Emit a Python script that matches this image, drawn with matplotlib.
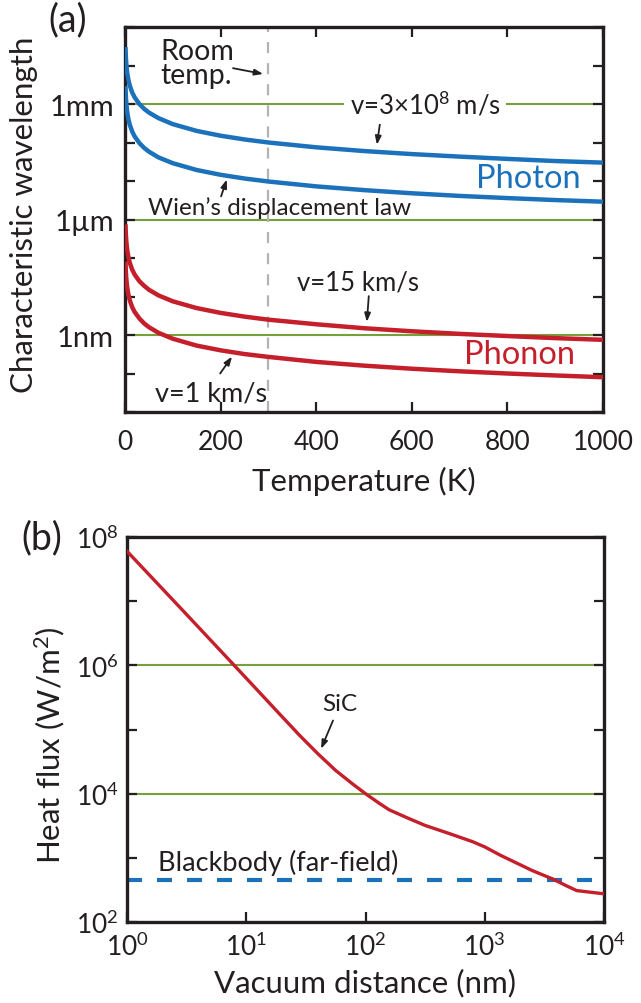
import numpy as np
import matplotlib
matplotlib.use("Agg")
import matplotlib.pyplot as plt
from matplotlib.ticker import FixedLocator, FixedFormatter, LogFormatterMathtext, NullLocator

plt.rcParams['font.family'] = ['Lato', 'DejaVu Sans']
plt.rcParams['mathtext.fontset'] = 'custom'
plt.rcParams['mathtext.rm'] = 'Lato'
plt.rcParams['mathtext.it'] = 'Lato:italic'
plt.rcParams['mathtext.bf'] = 'Lato:bold'
plt.rcParams['mathtext.default'] = 'regular'

# ---------------- data (a) ----------------
temperature_K = [1, 1.5, 2, 3, 4, 5, 7, 10, 15, 20, 30, 40, 50, 70, 100, 150, 200, 250, 300,
                 400, 500, 600, 700, 800, 900, 1000]
photon_v3e8_m = [3.0e-2, 2.0e-2, 1.5e-2, 1.0e-2, 7.5e-3, 6.0e-3, 4.3e-3, 3.0e-3, 2.0e-3, 1.5e-3,
                 1.0e-3, 7.5e-4, 6.0e-4, 4.3e-4, 3.0e-4, 2.0e-4, 1.5e-4, 1.2e-4, 1.0e-4,
                 7.5e-5, 6.0e-5, 5.0e-5, 4.3e-5, 3.75e-5, 3.3e-5, 3.0e-5]
photon_wien_m = [2.9e-3, 1.93e-3, 1.45e-3, 9.7e-4, 7.25e-4, 5.8e-4, 4.1e-4, 2.9e-4, 1.93e-4, 1.45e-4,
                 9.7e-5, 7.25e-5, 5.8e-5, 4.1e-5, 2.9e-5, 1.93e-5, 1.45e-5, 1.16e-5, 9.7e-6,
                 7.25e-6, 5.8e-6, 4.8e-6, 4.1e-6, 3.6e-6, 3.2e-6, 2.9e-6]
phonon_v15_m = [7.5e-7, 5.0e-7, 3.75e-7, 2.5e-7, 1.9e-7, 1.5e-7, 1.07e-7, 7.5e-8, 5.0e-8, 3.75e-8,
                2.5e-8, 1.9e-8, 1.5e-8, 1.07e-8, 7.5e-9, 5.0e-9, 3.75e-9, 3.0e-9, 2.5e-9,
                1.9e-9, 1.5e-9, 1.25e-9, 1.07e-9, 9.4e-10, 8.3e-10, 7.5e-10]
phonon_v1_m = [8.0e-8, 5.3e-8, 4.0e-8, 2.7e-8, 2.0e-8, 1.6e-8, 1.14e-8, 8.0e-9, 5.3e-9, 4.0e-9,
               2.7e-9, 2.0e-9, 1.6e-9, 1.14e-9, 8.0e-10, 5.3e-10, 4.0e-10, 3.2e-10, 2.7e-10,
               2.0e-10, 1.6e-10, 1.33e-10, 1.14e-10, 1.0e-10, 8.9e-11, 8.0e-11]
ref_lines_a = [1e-3, 1e-6, 1e-9]
ref_labels_a = ['1mm', '1\u00b5m', '1nm']
room_temp_K = 300
xticks_a = [0, 200, 400, 600, 800, 1000]

# ---------------- data (b) ----------------
distance_nm = [1, 3.16, 10, 20, 28.2, 39.8, 56.2, 79.4, 100, 126, 158, 224, 316, 501, 794,
               1000, 1349, 2512, 3715, 4898, 5888, 7244, 10000]
sic_flux = [6.0e7, 6.2e6, 6.3e5, 1.58e5, 8.0e4, 4.2e4, 2.3e4, 1.38e4, 1.0e4, 7.4e3, 5.6e3,
            4.2e3, 3.2e3, 2.4e3, 1.78e3, 1.48e3, 1.1e3, 631, 468, 363, 309, 295, 275]
blackbody_flux = 450
ref_lines_b = [1e6, 1e4]

BLUE = '#1b72bb'
RED = '#c41f2b'
GREEN = '#76a03c'
GREY = '#b3b3b3'
TXT = '#231f20'

W, H = 641, 1004
fig = plt.figure(figsize=(W / 100, H / 100), dpi=100)

def style_axes(ax):
    for s in ax.spines.values():
        s.set_linewidth(2.4)
        s.set_color(TXT)
    ax.tick_params(which='both', direction='in', length=7, width=1.6, colors=TXT,
                   top=True, right=True, labelsize=19)

# ---------------- panel (a) ----------------
axa = fig.add_axes([125 / W, 1 - 413 / H, (603 - 125) / W, (413 - 28) / H])
axa.set_yscale('log')
axa.set_xlim(0, 1000)
axa.set_ylim(1e-11, 1e-1)
for yv in ref_lines_a:
    axa.axhline(yv, color=GREEN, lw=1.5, zorder=1)
axa.axvline(room_temp_K, color=GREY, lw=1.6, dashes=(5, 4.5), zorder=1)
for ys, c in [(photon_v3e8_m, BLUE), (photon_wien_m, BLUE), (phonon_v15_m, RED), (phonon_v1_m, RED)]:
    axa.plot(temperature_K, ys, color=c, lw=3.2, solid_capstyle='butt', zorder=3)
style_axes(axa)
axa.xaxis.set_major_locator(FixedLocator(xticks_a))
axa.yaxis.set_major_locator(FixedLocator([10.0 ** k for k in range(-11, 0)]))
axa.yaxis.set_minor_locator(NullLocator())
ylabs = []
for k in range(-11, 0):
    lab = ''
    for rv, rl in zip(ref_lines_a, ref_labels_a):
        if abs(np.log10(rv) - k) < 1e-6:
            lab = rl
    ylabs.append(lab)
axa.yaxis.set_major_formatter(FixedFormatter(ylabs))
axa.tick_params(axis='y', pad=8, labelsize=21)
axa.tick_params(axis='x', pad=12)
axa.set_xlabel('Temperature (K)', fontsize=22.5, color=TXT, labelpad=9)

ap = dict(arrowstyle='-|>,head_length=0.5,head_width=0.18', color=TXT, lw=1.3, shrinkA=0, shrinkB=0)
axa.text(75, 10 ** -1.94, 'Room\ntemp.', fontsize=20.5, color=TXT, ha='left', va='center', linespacing=0.9)
axa.annotate('', xy=(289, 10 ** -2.22), xytext=(226, 10 ** -2.07), arrowprops=ap)
axa.text(628, 1e-3, 'v=3\u00d710$^{8}$ m/s', fontsize=18.5, color=TXT, ha='center', va='center',
         bbox=dict(facecolor='white', edgecolor='none', pad=4), zorder=4)
axa.annotate('', xy=(527, 10 ** -4.06), xytext=(536, 10 ** -3.28), arrowprops=ap)
axa.text(843, 10 ** -4.91, 'Photon', fontsize=23.5, color=BLUE, ha='center', va='center')
axa.text(48, 10 ** -5.69, 'Wien\u2019s displacement law', fontsize=17.5, color=TXT, ha='left', va='center')
axa.annotate('', xy=(213, 10 ** -4.96), xytext=(201, 10 ** -5.40), arrowprops=ap)
axa.text(360, 10 ** -7.63, 'v=15 km/s', fontsize=18.5, color=TXT, ha='left', va='center')
axa.annotate('', xy=(506, 10 ** -8.66), xytext=(510, 10 ** -7.99), arrowprops=ap)
axa.text(826, 10 ** -9.49, 'Phonon', fontsize=23.5, color=RED, ha='center', va='center')
axa.text(63, 10 ** -10.5, 'v=1 km/s', fontsize=19.5, color=TXT, ha='left', va='center')
axa.annotate('', xy=(224, 10 ** -9.56), xytext=(199, 10 ** -10.0), arrowprops=ap)

fig.text(24 / W, 1 - 215 / H, 'Characteristic wavelength', rotation=90, fontsize=22.5,
         color=TXT, ha='center', va='center')
fig.text(68 / W, 1 - 20 / H, '(a)', fontsize=27, color=TXT, ha='center', va='center')

# ---------------- panel (b) ----------------
axb = fig.add_axes([127 / W, 1 - 923 / H, (604 - 127) / W, (923 - 538) / H])
axb.set_xscale('log')
axb.set_yscale('log')
axb.set_xlim(1, 1e4)
axb.set_ylim(1e2, 1e8)
for yv in ref_lines_b:
    axb.axhline(yv, color=GREEN, lw=1.5, zorder=1)
axb.axhline(blackbody_flux, color=BLUE, lw=3.0, dashes=(3.6, 3.6), zorder=2)
axb.plot(distance_nm, sic_flux, color=RED, lw=2.4, zorder=3)
style_axes(axb)
axb.tick_params(top=False)
axb.xaxis.set_major_locator(FixedLocator([1, 10, 100, 1000, 10000]))
axb.xaxis.set_minor_locator(NullLocator())
axb.xaxis.set_major_formatter(LogFormatterMathtext())
axb.yaxis.set_major_locator(FixedLocator([10.0 ** k for k in range(2, 9)]))
axb.yaxis.set_minor_locator(NullLocator())
axb.yaxis.set_major_formatter(FixedFormatter(['$10^{%d}$' % k if k % 2 == 0 else '' for k in range(2, 9)]))
axb.tick_params(axis='y', pad=6)
axb.tick_params(axis='x', pad=7)
axb.set_xlabel('Vacuum distance (nm)', fontsize=22.5, color=TXT, labelpad=6)

axb.text(61, 2.55e5, 'SiC', fontsize=17.5, color=TXT, ha='center', va='center')
axb.annotate('', xy=(42.4, 5.0e4), xytext=(53.4, 1.38e5), arrowprops=ap)
axb.text(1.82, 870, 'Blackbody (far-field)', fontsize=19.5, color=TXT, ha='left', va='center')

fig.text(50 / W, 1 - 745 / H, 'Heat flux (W/m$^{2}$)', rotation=90, fontsize=22.5,
         color=TXT, ha='center', va='center')
fig.text(42 / W, 1 - 538 / H, '(b)', fontsize=27, color=TXT, ha='center', va='center')

fig.savefig('out.png', dpi=100)
